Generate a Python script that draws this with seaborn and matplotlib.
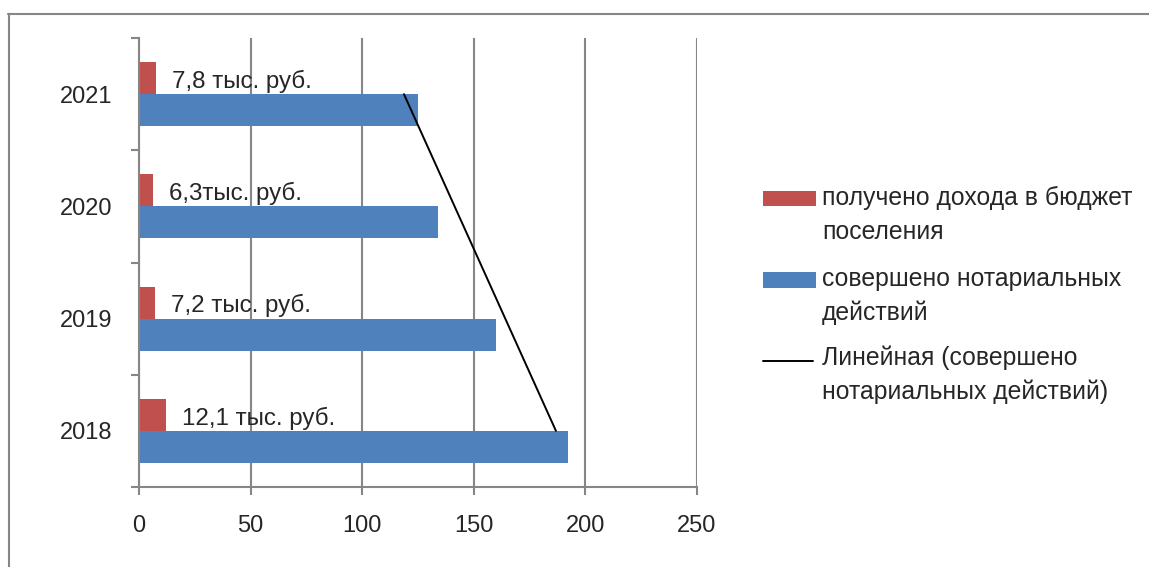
import numpy as np
import pandas as pd
import matplotlib.pyplot as plt
from matplotlib.lines import Line2D
from matplotlib.patches import Rectangle
import seaborn as sns

# data
years = ["2018", "2019", "2020", "2021"]
income = [12.1, 7.2, 6.3, 7.8]            # тыс. руб.
actions = [192, 160, 134, 125]
income_labels = ["12,1 тыс. руб.", "7,2 тыс. руб.", "6,3тыс. руб.", "7,8 тыс. руб."]
xticks = [0, 50, 100, 150, 200, 250]

s_income = "получено дохода в бюджет\nпоселения"
s_actions = "совершено нотариальных\nдействий"
s_trend = "Линейная (совершено\nнотариальных действий)"

red = "#C0504D"
blue = "#4F81BD"
grey = "#868686"

sns.set_style("white")
plt.rcParams["font.family"] = ["Liberation Sans", "DejaVu Sans"]

df = pd.DataFrame({
    "year": years * 2,
    "series": [s_income] * 4 + [s_actions] * 4,
    "value": income + actions,
})
order = years[::-1]   # 2021 on top

W, H = 1149, 567
fig = plt.figure(figsize=(W / 100, H / 100), dpi=100)
ax = fig.add_axes([139 / W, 1 - 487 / H, (697 - 139) / W, (487 - 38) / H])

sns.barplot(data=df, x="value", y="year", hue="series", order=order,
            hue_order=[s_income, s_actions], palette=[red, blue],
            orient="h", width=0.57, saturation=1, linewidth=0,
            errorbar=None, legend=False, ax=ax)

# linear trend of the actions series, drawn through category centres
pos = np.array([order.index(y) for y in years])
coef = np.polyfit(pos, actions, 1)
ends = np.array([pos.min(), pos.max()])
ax.plot(np.polyval(coef, ends), ends, color="black", lw=1.4, zorder=5)

# data labels for the income bars
for y, v, lab in zip(years, income, income_labels):
    ax.annotate(lab, (v, order.index(y) - 0.1425), xytext=(11.5, -7),
                textcoords="offset points", va="baseline", ha="left",
                fontsize=17.4)

ax.set_xlim(0, 250)
ax.set_ylim(3.5, -0.5)
ax.set_xticks(xticks)
ax.set_xticklabels([str(t) for t in xticks])
ax.set_yticks(range(4))
ax.set_yticklabels(order)
ax.set_yticks(np.arange(-0.5, 4, 1), minor=True)
ax.set_xlabel("")
ax.set_ylabel("")

ax.set_axisbelow(True)
ax.xaxis.grid(True, color=grey, lw=1.5)
ax.yaxis.grid(False)
for s in ["top", "right"]:
    ax.spines[s].set_visible(False)
for s in ["left", "bottom"]:
    ax.spines[s].set_color(grey)
    ax.spines[s].set_linewidth(1.5)

ax.tick_params(axis="x", which="major", direction="out", length=6, width=1.5,
               color=grey, labelsize=17, pad=14, bottom=True)
ax.tick_params(axis="y", which="major", length=0, labelsize=17, pad=19)
ax.tick_params(axis="y", which="minor", direction="out", length=6, width=1.5,
               color=grey, left=True)

# legend laid out like the original (handle level with the first line);
# text is placed by the baseline of its last line
entries = [(s_income, red, 198, 239), (s_actions, blue, 280, 320),
           (s_trend, None, 361, 399)]
for lab, col, yc, base in entries:
    if col is None:
        fig.add_artist(Line2D([763 / W, 813 / W], [1 - yc / H] * 2,
                              transform=fig.transFigure, color="black", lw=1.4))
    else:
        fig.add_artist(Rectangle((763 / W, 1 - (yc + 7.5) / H), 53 / W, 15 / H,
                                 transform=fig.transFigure, color=col, lw=0))
    fig.text(822 / W, 1 - base / H, lab, va="baseline", ha="left",
             fontsize=17.8, linespacing=1.5)

# chart-area border (only top and left edges are inside the picture)
fig.add_artist(Line2D([8 / W, 1], [1 - 13.5 / H] * 2, transform=fig.transFigure,
                      color=grey, lw=1.5))
fig.add_artist(Line2D([9 / W] * 2, [0, 1 - 13.5 / H], transform=fig.transFigure,
                      color=grey, lw=1.5))

fig.savefig("out.png", dpi=100)
